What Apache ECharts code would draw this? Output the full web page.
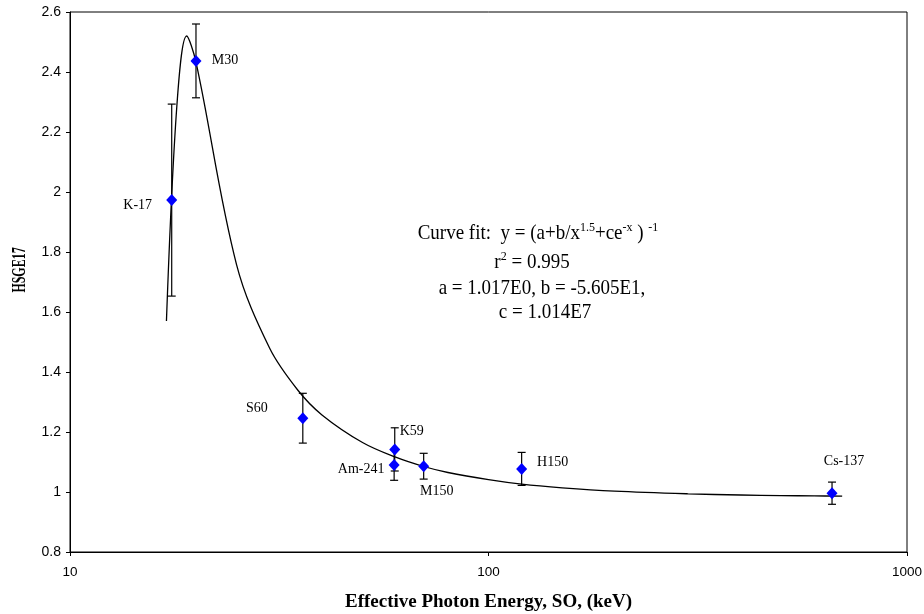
<!DOCTYPE html>
<html>
<head>
<meta charset="utf-8">
<title>HSGE17 energy response</title>
<script src="https://cdn.jsdelivr.net/npm/echarts@6/dist/echarts.min.js"></script>
<style>
  html, body { margin: 0; padding: 0; background: #fff; }
  #chart { width: 924px; height: 614px; }
</style>
</head>
<body>
<div id="chart"></div>
<script>
// Measured sources: effective photon energy (keV), dosimeter response and its uncertainty
const pointNames = ['K-17', 'M30', 'S60', 'K59', 'Am-241', 'M150', 'H150', 'Cs-137'];
const energyKeV = [17.5, 20, 36, 59.7, 59.5, 70, 120, 662];
const hsgeValues = [1.973, 2.437, 1.246, 1.142, 1.090, 1.086, 1.077, 0.996];
const errorValues = [0.32, 0.123, 0.083, 0.072, 0.051, 0.043, 0.055, 0.037];

// Fitted response curve, sampled points
const fitEnergy = [17, 18, 19, 20, 25, 30, 35, 40, 50, 60, 70, 80, 100, 120, 150, 200, 300, 400, 500, 600, 700];
const fitValues = [1.57, 2.286, 2.52, 2.433, 1.758, 1.479, 1.340, 1.257, 1.165, 1.116, 1.085, 1.065, 1.041, 1.026, 1.014, 1.003, 0.994, 0.990, 0.988, 0.987, 0.986];

// Axis ticks
const xTicks = [10, 100, 1000];
const yMin = 0.8, yMax = 2.6, yStep = 0.2;

// Label placement relative to each marker (px)
const labelOffsets = {
  'K-17': [-34, 5],
  'M30': [29, -1],
  'S60': [-46, -10],
  'K59': [17, -18],
  'Am-241': [-33, 4],
  'M150': [13, 25],
  'H150': [31, -7],
  'Cs-137': [12, -32]
};

const serif = '"Liberation Serif", "Times New Roman", serif';
const sans = '"Liberation Sans", Arial, sans-serif';

const pointData = pointNames.map((n, i) => ({
  name: n,
  value: [energyKeV[i], hsgeValues[i]],
  label: { offset: labelOffsets[n] }
}));
const errorData = pointNames.map((n, i) => [energyKeV[i], hsgeValues[i] - errorValues[i], hsgeValues[i] + errorValues[i]]);
const fitData = fitEnergy.map((x, i) => [x, fitValues[i]]);

const chart = echarts.init(document.getElementById('chart'), null, { renderer: 'canvas' });

const supStyle = { fontFamily: serif, fontSize: 12, verticalAlign: 'top', lineHeight: 14, color: '#000' };
const baseStyle = { fontFamily: serif, fontSize: 19, color: '#000', lineHeight: 22 };

function noteLine(x, y, text) {
  return {
    type: 'text',
    x: x, y: y,
    scaleY: 1.12,
    style: {
      text: text,
      align: 'center', verticalAlign: 'middle',
      font: '19px ' + serif,
      fill: '#000',
      rich: { b: baseStyle, sup: supStyle }
    },
    z: 10
  };
}

chart.setOption({
  animation: false,
  backgroundColor: '#fff',
  grid: {
    left: 70, right: 17, top: 12, bottom: 62,
    outerBoundsMode: 'none',
    containLabel: false,
    show: true, borderColor: '#000', borderWidth: 1, backgroundColor: 'transparent'
  },
  xAxis: {
    type: 'log',
    logBase: 10,
    min: xTicks[0],
    max: xTicks[xTicks.length - 1],
    name: 'Effective Photon Energy, SO, (keV)',
    nameLocation: 'middle',
    nameGap: 41,
    nameTextStyle: { fontFamily: serif, fontWeight: 'bold', fontSize: 19, color: '#000' },
    axisLine: { show: true, onZero: false, lineStyle: { color: '#000', width: 1 } },
    axisTick: { show: true, inside: false, length: 4, lineStyle: { color: '#000' } },
    minorTick: { show: false },
    splitLine: { show: false },
    axisLabel: {
      fontFamily: sans, fontSize: 13.5, color: '#000', margin: 13,
      formatter: v => String(Math.round(v))
    }
  },
  yAxis: {
    type: 'value',
    min: yMin,
    max: yMax,
    interval: yStep,
    axisLine: { show: true, lineStyle: { color: '#000', width: 1 } },
    axisTick: { show: true, inside: false, length: 4, lineStyle: { color: '#000' } },
    splitLine: { show: false },
    axisLabel: { fontFamily: sans, fontSize: 14, color: '#000', margin: 9 }
  },
  graphic: [
    {
      type: 'text',
      x: 20, y: 270,
      rotation: Math.PI / 2,
      scaleX: 0.63,
      style: {
        text: 'HSGE17',
        align: 'center', verticalAlign: 'middle',
        font: 'bold 19px ' + serif,
        fill: '#000'
      }
    },
    noteLine(538, 233, '{b|Curve fit:  y = (a+b/x}{sup|1.5}{b|+ce}{sup|-x}{b| ) }{sup|-1}'),
    noteLine(532, 262, '{b|r}{sup|2}{b| = 0.995}'),
    noteLine(542, 288, '{b|a = 1.017E0, b = -5.605E1,}'),
    noteLine(545, 312, '{b|c = 1.014E7}')
  ],
  series: [
    {
      name: 'Curve fit',
      type: 'line',
      data: fitData,
      smooth: 0.35,
      showSymbol: false,
      symbol: 'none',
      lineStyle: { color: '#000', width: 1.3 },
      z: 2
    },
    {
      name: 'Uncertainty',
      type: 'custom',
      data: errorData,
      encode: { x: 0, y: [1, 2] },
      renderItem: function (params, api) {
        const x = api.value(0);
        const lo = api.coord([x, api.value(1)]);
        const hi = api.coord([x, api.value(2)]);
        const cap = 4;
        const st = { stroke: '#000', lineWidth: 1.2 };
        return {
          type: 'group',
          children: [
            { type: 'line', shape: { x1: lo[0], y1: lo[1], x2: hi[0], y2: hi[1] }, style: st },
            { type: 'line', shape: { x1: hi[0] - cap, y1: hi[1], x2: hi[0] + cap, y2: hi[1] }, style: st },
            { type: 'line', shape: { x1: lo[0] - cap, y1: lo[1], x2: lo[0] + cap, y2: lo[1] }, style: st }
          ]
        };
      },
      z: 3
    },
    {
      name: 'HSGE17',
      type: 'scatter',
      data: pointData,
      symbol: 'diamond',
      symbolSize: [11, 12],
      itemStyle: { color: '#0000ff', opacity: 1 },
      label: {
        show: true,
        position: 'inside',
        formatter: '{b}',
        align: 'center',
        verticalAlign: 'middle',
        fontFamily: serif,
        fontSize: 14,
        color: '#000'
      },
      z: 4
    }
  ]
});
</script>
</body>
</html>
